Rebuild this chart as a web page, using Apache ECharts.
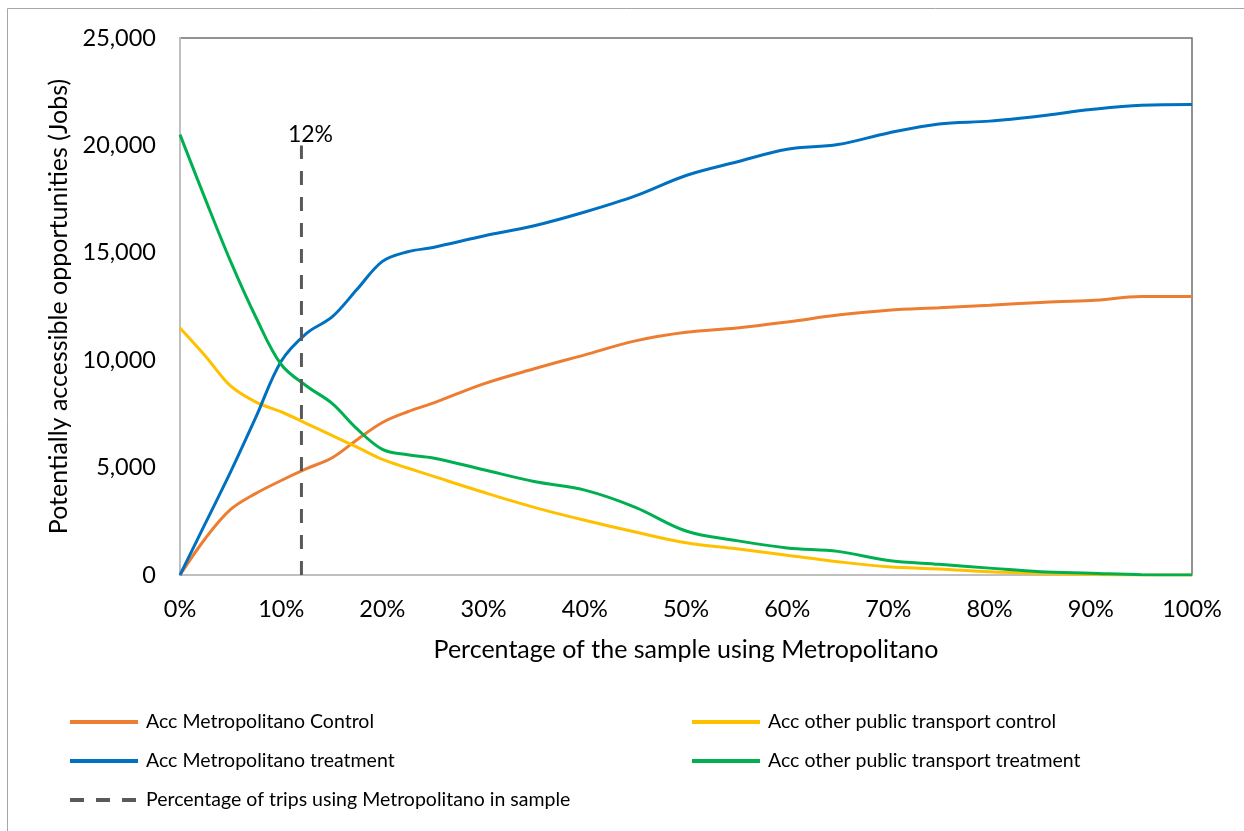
<!DOCTYPE html>
<html>
<head>
<meta charset="utf-8">
<script src="https://cdn.jsdelivr.net/npm/echarts@6/dist/echarts.min.js"></script>
<style>
html,body{margin:0;padding:0;background:#fff;}
#c{width:1244px;height:831px;}
</style>
</head>
<body>
<div id="c"></div>
<script>
// ---- data ----
const pct = [0, 2.5, 5, 7.5, 10, 12.5, 15, 17.5, 20, 22.5, 25, 30, 35, 40, 45, 50, 55, 60, 65, 70, 75, 80, 85, 90, 95, 100];
const metroControl = [0, 1700, 3050, 3800, 4400, 4950, 5450, 6300, 7100, 7600, 8000, 8900, 9600, 10250, 10900, 11300, 11500, 11780, 12100, 12330, 12440, 12560, 12690, 12780, 12960, 12970];
const otherControl = [11500, 10200, 8800, 8050, 7600, 7050, 6500, 5950, 5380, 4980, 4600, 3850, 3150, 2550, 2000, 1500, 1220, 920, 620, 380, 280, 150, 70, 20, 0, 0];
const metroTreatment = [0, 2400, 4800, 7350, 9950, 11250, 12000, 13300, 14600, 15050, 15250, 15780, 16260, 16900, 17650, 18600, 19230, 19820, 20040, 20580, 21000, 21130, 21370, 21670, 21870, 21900];
const otherTreatment = [20500, 17500, 14600, 12000, 9800, 8800, 8000, 6800, 5850, 5600, 5450, 4900, 4350, 3950, 3150, 2050, 1600, 1260, 1100, 680, 500, 320, 150, 80, 10, 0];
const markerPct = 12;
const markerRange = [0, 20000];
const seriesNames = [
  'Acc Metropolitano Control',
  'Acc other public transport control',
  'Acc Metropolitano treatment',
  'Acc other public transport treatment',
  'Percentage of trips using Metropolitano in sample'
];
const xTicks = {min: 0, max: 100, interval: 10};
const yTicks = {min: 0, max: 25000, interval: 5000};

// ---- build ----
const FONT = 'Lato';
const zip = (ys) => pct.map((x, i) => [x, ys[i]]);
const lineSeries = (name, ys, color) => ({
  name, type: 'line', data: zip(ys), smooth: 0.35, symbol: 'none',
  lineStyle: {color, width: 3}, itemStyle: {color}
});
const legendCommon = {
  orient: 'vertical', top: 707, itemWidth: 68, itemHeight: 14, itemGap: 19,
  itemStyle: {opacity: 0}, lineStyle: {width: 4},
  textStyle: {color: '#000', fontSize: 19.5, lineHeight: 20, fontFamily: FONT, padding: [0, 0, 0, 3]}
};

const chart = echarts.init(document.getElementById('c'), null, {renderer: 'canvas'});
chart.setOption({
  animation: false,
  backgroundColor: '#fff',
  textStyle: {fontFamily: FONT},
  graphic: [{
    type: 'rect', shape: {x: 7.5, y: 8.5, width: 1400, height: 1000},
    style: {fill: 'none', stroke: '#a6a6a6', lineWidth: 1}, silent: true, z: -1
  }],
  grid: {left: 180, right: 52, top: 38, bottom: 256, show: true, borderColor: '#6f6f6f', borderWidth: 1.5, backgroundColor: 'transparent'},
  xAxis: {
    type: 'value', min: xTicks.min, max: xTicks.max, interval: xTicks.interval,
    axisLine: {show: true, onZero: false, lineStyle: {color: '#bfbfbf', width: 2}},
    axisTick: {show: false}, splitLine: {show: false},
    axisLabel: {formatter: '{value}%', color: '#000', fontSize: 23.5, fontFamily: FONT, margin: 22},
    name: 'Percentage of the sample using Metropolitano', nameLocation: 'middle', nameGap: 62,
    nameTextStyle: {color: '#000', fontSize: 25, fontFamily: FONT}
  },
  yAxis: {
    type: 'value', min: yTicks.min, max: yTicks.max, interval: yTicks.interval,
    axisLine: {show: true, lineStyle: {color: '#bfbfbf', width: 2}},
    axisTick: {show: false}, splitLine: {show: false},
    axisLabel: {formatter: v => v.toLocaleString('en-US'), color: '#000', fontSize: 23.5, fontFamily: FONT, margin: 24},
    name: 'Potentially accessible opportunities (Jobs)', nameLocation: 'middle', nameGap: 108,
    nameTextStyle: {color: '#000', fontSize: 25, fontFamily: FONT}
  },
  legend: [
    Object.assign({data: [seriesNames[0], seriesNames[2], seriesNames[4]], left: 63}, legendCommon),
    Object.assign({data: [seriesNames[1], seriesNames[3]], left: 685}, legendCommon)
  ],
  series: [
    lineSeries(seriesNames[0], metroControl, '#ED7D31'),
    lineSeries(seriesNames[1], otherControl, '#FFC000'),
    lineSeries(seriesNames[2], metroTreatment, '#0070C0'),
    lineSeries(seriesNames[3], otherTreatment, '#00B050'),
    {
      name: seriesNames[4], type: 'line', symbol: 'none',
      data: [[markerPct, markerRange[0]], [markerPct, markerRange[1]]],
      lineStyle: {color: '#595959', width: 3, type: [14, 12]}, itemStyle: {color: '#595959'},
      markPoint: {
        symbol: 'circle', symbolSize: 0, silent: true,
        data: [{coord: [markerPct, markerRange[1]]}],
        label: {show: true, position: 'top', offset: [9, 6], formatter: markerPct + '%', color: '#000', fontSize: 23, fontFamily: FONT}
      }
    }
  ]
});
</script>
</body>
</html>
